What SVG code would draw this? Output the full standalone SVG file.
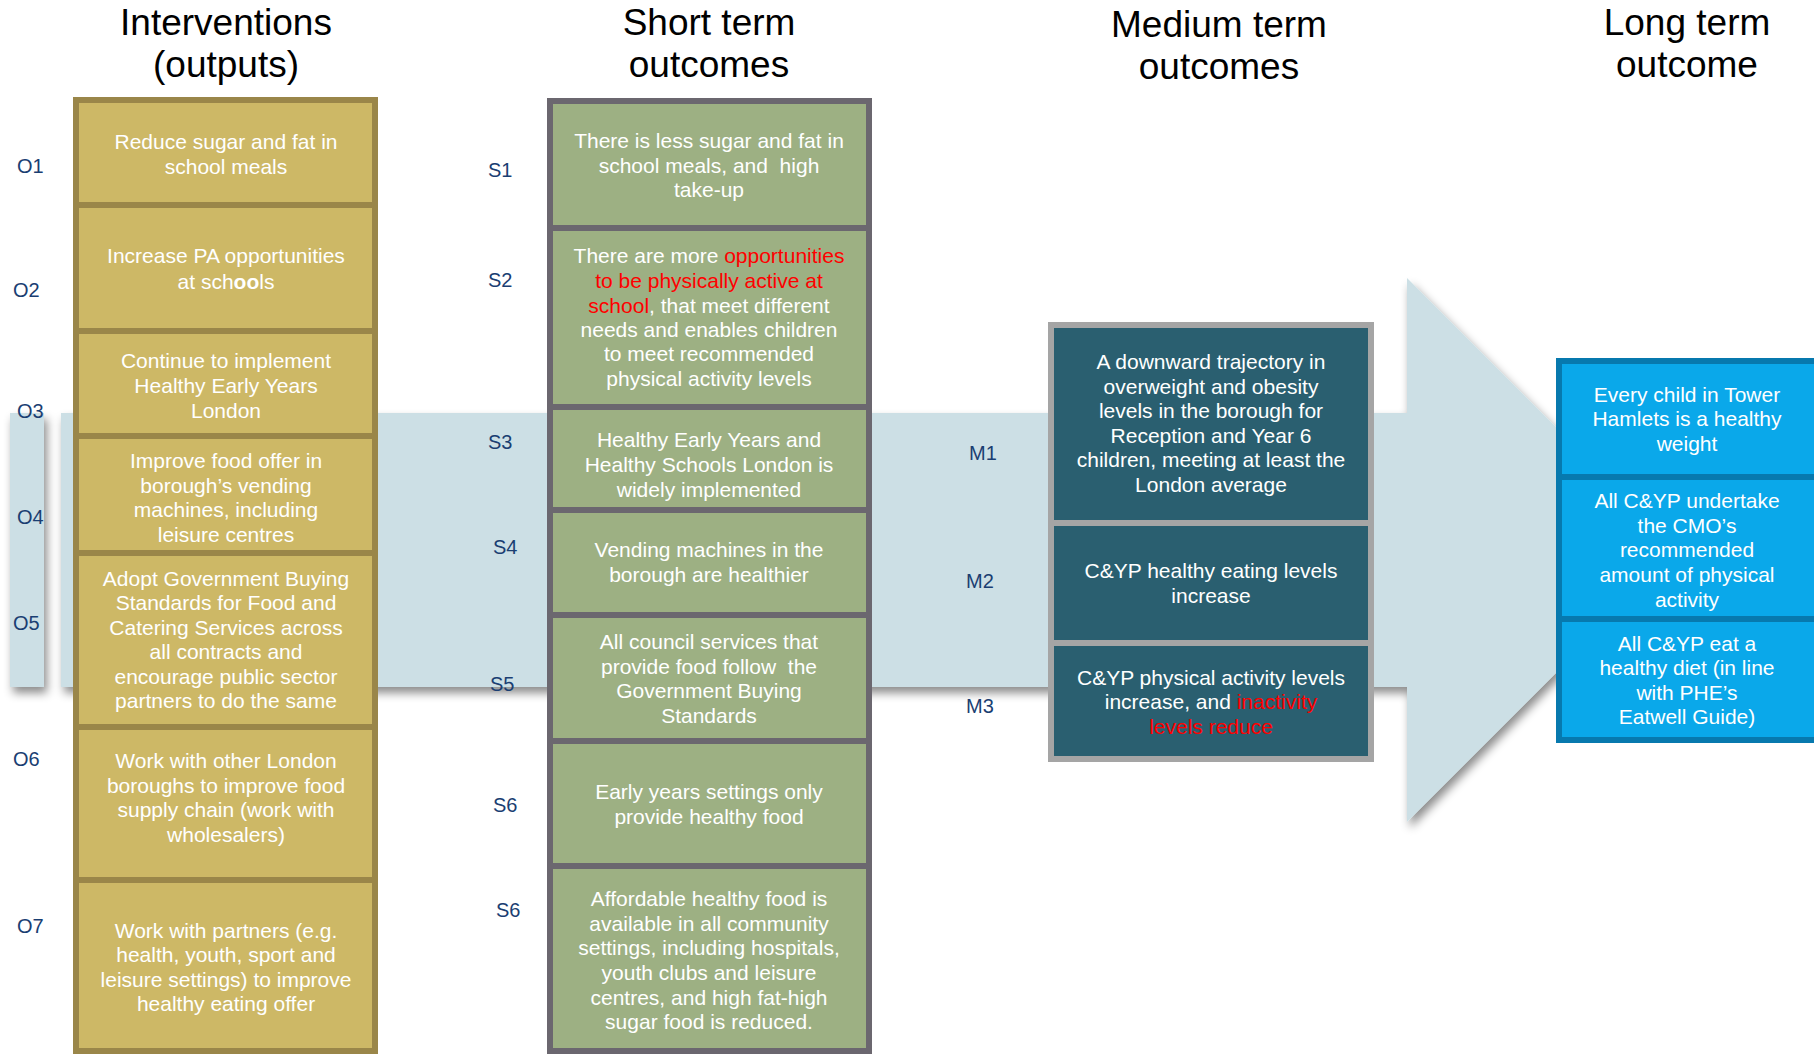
<svg xmlns="http://www.w3.org/2000/svg" width="1814" height="1054" viewBox="0 0 1814 1054">
<defs>
<filter id="shadow" x="-5%" y="-10%" width="115%" height="125%">
<feDropShadow dx="3" dy="6" stdDeviation="5" flood-color="#000" flood-opacity="0.45"/>
</filter>
<style>
text{font-family:"Liberation Sans",Arial,sans-serif}
.hdr{font-size:37px;fill:#000;text-anchor:middle}
.lbl{font-size:20px;fill:#1A3E72}
.bt{font-size:21px;fill:#FFFFFF;text-anchor:middle}
.red{fill:#FF0000}
.gold{fill:#CDB866;stroke:#9A8649;stroke-width:6}
.green{fill:#9DB083;stroke:#6B676F;stroke-width:6}
.teal{fill:#2A5F70;stroke:#A5A5A5;stroke-width:6}
.blue{fill:#0AA8EA;stroke:#0779AE;stroke-width:6}
.band{fill:#CCDFE5}
</style>
</defs>
<rect width="1814" height="1054" fill="#FFFFFF"/>

<g id="connectors">
<g filter="url(#shadow)">
<rect class="band" x="10" y="413" width="34" height="274"/>
<polygon class="band" points="61,413 1407,413 1407,278 1679,550 1407,822 1407,687 61,687"/>
</g>
</g>

<g id="headers">
<text class="hdr" x="226" y="35">Interventions</text>
<text class="hdr" x="226" y="77">(outputs)</text>
<text class="hdr" x="709" y="35">Short term</text>
<text class="hdr" x="709" y="77">outcomes</text>
<text class="hdr" x="1219" y="37">Medium term</text>
<text class="hdr" x="1219" y="79">outcomes</text>
<text class="hdr" x="1687" y="35">Long term</text>
<text class="hdr" x="1687" y="77">outcome</text>
</g>

<g id="labels">
<text class="lbl" x="17" y="173">O1</text>
<text class="lbl" x="13" y="297">O2</text>
<text class="lbl" x="17" y="418">O3</text>
<text class="lbl" x="17" y="524">O4</text>
<text class="lbl" x="13" y="630">O5</text>
<text class="lbl" x="13" y="766">O6</text>
<text class="lbl" x="17" y="933">O7</text>
<text class="lbl" x="488" y="177">S1</text>
<text class="lbl" x="488" y="287">S2</text>
<text class="lbl" x="488" y="449">S3</text>
<text class="lbl" x="493" y="554">S4</text>
<text class="lbl" x="490" y="691">S5</text>
<text class="lbl" x="493" y="812">S6</text>
<text class="lbl" x="496" y="917">S6</text>
<text class="lbl" x="969" y="460">M1</text>
<text class="lbl" x="966" y="588">M2</text>
<text class="lbl" x="966" y="713">M3</text>
</g>

<g id="O1">
<rect class="gold" x="76" y="100" width="299" height="105"/>
<text class="bt" x="226" y="149">Reduce sugar and fat in</text>
<text class="bt" x="226" y="174">school meals</text>
</g>
<g id="O2">
<rect class="gold" x="76" y="205" width="299" height="126"/>
<text class="bt" x="226" y="263">Increase PA opportunities</text>
<text class="bt" x="226" y="289">at sch<tspan font-weight="bold">oo</tspan>ls</text>
</g>
<g id="O3">
<rect class="gold" x="76" y="331" width="299" height="105"/>
<text class="bt" x="226" y="368">Continue to implement</text>
<text class="bt" x="226" y="393">Healthy Early Years</text>
<text class="bt" x="226" y="418">London</text>
</g>
<g id="O4">
<rect class="gold" x="76" y="436" width="299" height="117"/>
<text class="bt" x="226" y="468">Improve food offer in</text>
<text class="bt" x="226" y="493">borough’s vending</text>
<text class="bt" x="226" y="517">machines, including</text>
<text class="bt" x="226" y="542">leisure centres</text>
</g>
<g id="O5">
<rect class="gold" x="76" y="553" width="299" height="174"/>
<text class="bt" x="226" y="586">Adopt Government Buying</text>
<text class="bt" x="226" y="610">Standards for Food and</text>
<text class="bt" x="226" y="635">Catering Services across</text>
<text class="bt" x="226" y="659">all contracts and</text>
<text class="bt" x="226" y="684">encourage public sector</text>
<text class="bt" x="226" y="708">partners to do the same</text>
</g>
<g id="O6">
<rect class="gold" x="76" y="727" width="299" height="153"/>
<text class="bt" x="226" y="768">Work with other London</text>
<text class="bt" x="226" y="793">boroughs to improve food</text>
<text class="bt" x="226" y="817">supply chain (work with</text>
<text class="bt" x="226" y="842">wholesalers)</text>
</g>
<g id="O7">
<rect class="gold" x="76" y="880" width="299" height="171"/>
<text class="bt" x="226" y="938">Work with partners (e.g.</text>
<text class="bt" x="226" y="962">health, youth, sport and</text>
<text class="bt" x="226" y="987">leisure settings) to improve</text>
<text class="bt" x="226" y="1011">healthy eating offer</text>
</g>

<g id="S1">
<rect class="green" x="550" y="101" width="319" height="127"/>
<text class="bt" x="709" y="148">There is less sugar and fat in</text>
<text class="bt" x="709" y="173" xml:space="preserve">school meals, and  high</text>
<text class="bt" x="709" y="197">take-up</text>
</g>
<g id="S2">
<rect class="green" x="550" y="228" width="319" height="179"/>
<text class="bt" x="709" y="263">There are more <tspan class="red">opportunities</tspan></text>
<text class="bt" x="709" y="288"><tspan class="red">to be physically active at</tspan></text>
<text class="bt" x="709" y="313"><tspan class="red">school</tspan>, that meet different</text>
<text class="bt" x="709" y="337">needs and enables children</text>
<text class="bt" x="709" y="361">to meet recommended</text>
<text class="bt" x="709" y="386">physical activity levels</text>
</g>
<g id="S3">
<rect class="green" x="550" y="407" width="319" height="103"/>
<text class="bt" x="709" y="447">Healthy Early Years and</text>
<text class="bt" x="709" y="472">Healthy Schools London is</text>
<text class="bt" x="709" y="497">widely implemented</text>
</g>
<g id="S4">
<rect class="green" x="550" y="510" width="319" height="105"/>
<text class="bt" x="709" y="557">Vending machines in the</text>
<text class="bt" x="709" y="582">borough are healthier</text>
</g>
<g id="S5">
<rect class="green" x="550" y="615" width="319" height="126"/>
<text class="bt" x="709" y="649">All council services that</text>
<text class="bt" x="709" y="674" xml:space="preserve">provide food follow  the</text>
<text class="bt" x="709" y="698">Government Buying</text>
<text class="bt" x="709" y="723">Standards</text>
</g>
<g id="S6">
<rect class="green" x="550" y="741" width="319" height="125"/>
<text class="bt" x="709" y="799">Early years settings only</text>
<text class="bt" x="709" y="824">provide healthy food</text>
</g>
<g id="S7">
<rect class="green" x="550" y="866" width="319" height="185"/>
<text class="bt" x="709" y="906">Affordable healthy food is</text>
<text class="bt" x="709" y="931">available in all community</text>
<text class="bt" x="709" y="955">settings, including hospitals,</text>
<text class="bt" x="709" y="980">youth clubs and leisure</text>
<text class="bt" x="709" y="1005">centres, and high fat-high</text>
<text class="bt" x="709" y="1029">sugar food is reduced.</text>
</g>

<g id="M1">
<rect class="teal" x="1051" y="325" width="320" height="198"/>
<text class="bt" x="1211" y="369">A downward trajectory in</text>
<text class="bt" x="1211" y="394">overweight and obesity</text>
<text class="bt" x="1211" y="418">levels in the borough for</text>
<text class="bt" x="1211" y="443">Reception and Year 6</text>
<text class="bt" x="1211" y="467">children, meeting at least the</text>
<text class="bt" x="1211" y="492">London average</text>
</g>
<g id="M2">
<rect class="teal" x="1051" y="523" width="320" height="120"/>
<text class="bt" x="1211" y="578">C&amp;YP healthy eating levels</text>
<text class="bt" x="1211" y="603">increase</text>
</g>
<g id="M3">
<rect class="teal" x="1051" y="643" width="320" height="116"/>
<text class="bt" x="1211" y="685">C&amp;YP physical activity levels</text>
<text class="bt" x="1211" y="709">increase, and <tspan class="red">inactivity</tspan></text>
<text class="bt" x="1211" y="734"><tspan class="red">levels reduce</tspan></text>
</g>

<g id="L1">
<rect class="blue" x="1559" y="361" width="262" height="116"/>
<text class="bt" x="1687" y="402">Every child in Tower</text>
<text class="bt" x="1687" y="426">Hamlets is a healthy</text>
<text class="bt" x="1687" y="451">weight</text>
</g>
<g id="L2">
<rect class="blue" x="1559" y="477" width="262" height="142"/>
<text class="bt" x="1687" y="508">All C&amp;YP undertake</text>
<text class="bt" x="1687" y="533">the CMO’s</text>
<text class="bt" x="1687" y="557">recommended</text>
<text class="bt" x="1687" y="582">amount of physical</text>
<text class="bt" x="1687" y="607">activity</text>
</g>
<g id="L3">
<rect class="blue" x="1559" y="619" width="262" height="121"/>
<text class="bt" x="1687" y="651">All C&amp;YP eat a</text>
<text class="bt" x="1687" y="675">healthy diet (in line</text>
<text class="bt" x="1687" y="700">with PHE’s</text>
<text class="bt" x="1687" y="724">Eatwell Guide)</text>
</g>
</svg>
